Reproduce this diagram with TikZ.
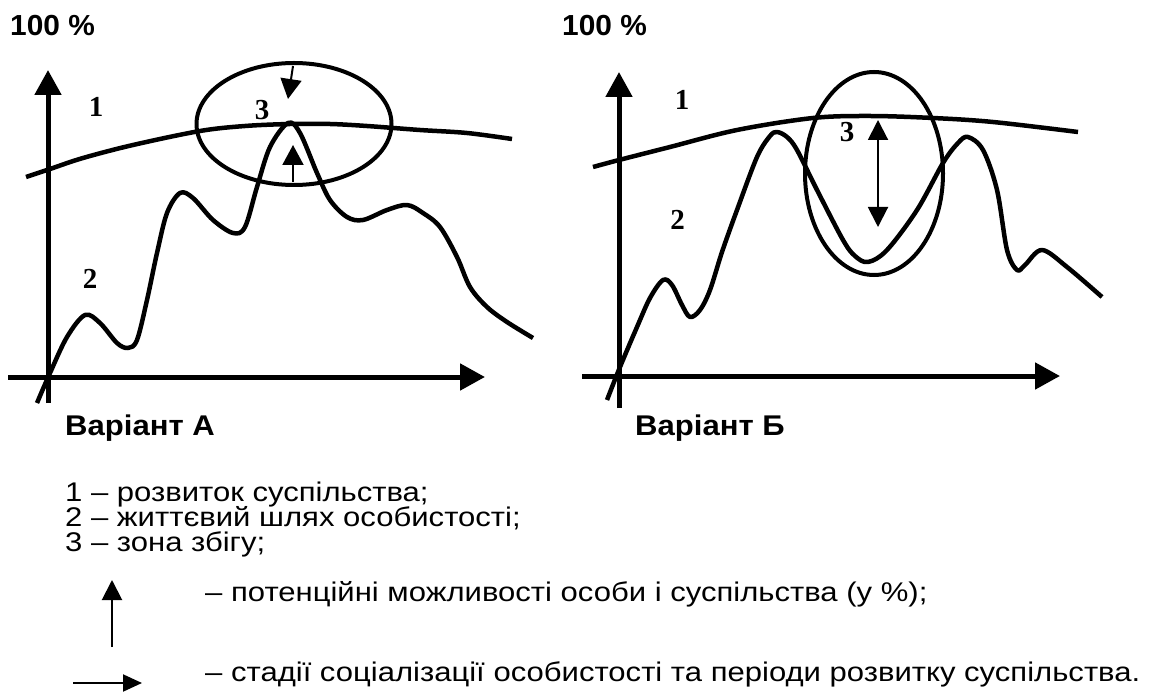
\documentclass[tikz,border=0pt]{standalone}
\usepackage{fontspec}
\usetikzlibrary{arrows.meta,calc,shapes.geometric}
\newfontfamily\lgf{Liberation Sans}[FakeStretch=1.15]
\newfontfamily\ttf{Liberation Sans}[FakeStretch=1.09]
\newfontfamily\hdf{Liberation Sans}[FakeStretch=1.03]
\newfontfamily\numf{Liberation Serif}
\tikzset{
  axis/.style={line width=5pt,-{Triangle[length=25pt,width=26pt]}},
  curve/.style={line width=4.5pt,line join=round},
  zone/.style={line width=4pt},
  thinarrow/.style={line width=2pt,-{Triangle[length=20pt,width=21pt]}},
  dblarrow/.style={line width=2pt,{Triangle[length=20pt,width=20pt]}-{Triangle[length=20pt,width=20pt]}},
  numlbl/.style={inner sep=0pt,font=\numf\bfseries\fontsize{29}{31}\selectfont},
  head/.style={inner sep=0pt,anchor=base west,font=\hdf\bfseries\fontsize{29}{32}\selectfont},
  title/.style={inner sep=0pt,anchor=base west,font=\ttf\bfseries\fontsize{28.5}{31}\selectfont},
  legend/.style={inner sep=0pt,anchor=base west,font=\lgf\fontsize{27}{30}\selectfont}
}
\begin{document}
\begin{tikzpicture}[x=1pt,y=-1pt]
\useasboundingbox (0,0) rectangle (1155,692);
% ---------- Variant A ----------
\coordinate (ya0) at (48,403);
\coordinate (ya1) at (48,70);
\coordinate (xa0) at (8,377);
\coordinate (xa1) at (485,377);
\draw[axis] (ya0) -- (ya1);
\draw[axis] (xa0) -- (xa1);
\draw[curve] plot[smooth,tension=0.55] coordinates {(26,177) (50,169) (83,158) (133,145) (200,131) (245,126) (290,124) (330,124) (367,126) (420,130) (467,133) (512,139)};
\draw[curve] plot[smooth,tension=0.55] coordinates {(37,403) (50,373) (67,337) (85,315) (100,323) (117,343) (128,348) (137,340) (147,300) (157,253) (167,213) (180,193) (193,198) (213,220) (233,233) (245,227) (257,187) (270,147) (288,123) (300,133) (317,173) (330,200) (347,217) (363,220) (387,210) (407,205) (423,213) (440,227) (457,257) (470,287) (487,307) (507,322) (533,338)};
\node[zone,draw,ellipse,minimum width=195pt,minimum height=122pt,inner sep=0pt] (za) at (294,124) {};
\coordinate (da0) at (293,66);
\coordinate (da1) at (288,99);
\coordinate (ua0) at (293,182);
\coordinate (ua1) at (293,145);
\draw[thinarrow] (da0) -- (da1);
\draw[thinarrow] (ua0) -- (ua1);
\node[numlbl] (a1) at (96,107) {1};
\node[numlbl] (a2) at (90,279) {2};
\node[numlbl] (a3) at (262,110) {3};
\node[head] (ha) at (10,36) {100 \%};
\node[title] (ta) at (65,435) {Варіант А};
% ---------- Variant B ----------
\coordinate (yb0) at (619,408);
\coordinate (yb1) at (619,72);
\coordinate (xb0) at (582,376);
\coordinate (xb1) at (1060,376);
\draw[axis] (yb0) -- (yb1);
\draw[axis] (xb0) -- (xb1);
\draw[curve] plot[smooth,tension=0.55] coordinates {(593,167) (619,160) (670,147) (737,130) (813,118) (870,116) (933,118) (993,122) (1078,132)};
\draw[curve] plot[smooth,tension=0.55] coordinates {(607,400) (620,367) (637,327) (650,298) (663,280) (672,285) (682,305) (690,317) (700,310) (710,290) (722,252) (737,210) (757,157) (770,136) (777,132) (787,137) (797,150) (817,190) (843,240) (855,256) (868,262) (887,250) (917,210) (943,163) (958,143) (968,137) (983,150) (997,190) (1007,250) (1017,270) (1025,265) (1042,250) (1067,267) (1102,297)};
\node[zone,draw,ellipse,minimum width=138pt,minimum height=203pt,inner sep=0pt] (zb) at (874,173.5) {};
\coordinate (bb0) at (878,120);
\coordinate (bb1) at (878,227);
\draw[dblarrow] (bb0) -- (bb1);
\node[numlbl] (b1) at (682,100) {1};
\node[numlbl] (b2) at (677.5,220) {2};
\node[numlbl] (b3) at (847,132) {3};
\node[head] (hb) at (562,36) {100 \%};
\node[title] (tb) at (635,435) {Варіант Б};
% ---------- Legend ----------
\node[legend] (l1) at (65,501) {1 – розвиток суспільства;};
\node[legend] (l2) at (65,526) {2 – життєвий шлях особистості;};
\node[legend] (l3) at (65,551) {3 – зона збігу;};
\node[legend] (l4) at (205,601) {– потенційні можливості особи і суспільства (у \%);};
\node[legend] (l5) at (205,681) {– стадії соціалізації особистості та періоди розвитку суспільства.};
\coordinate (la0) at (112,647);
\coordinate (la1) at (112,580);
\coordinate (lb0) at (73,683);
\coordinate (lb1) at (142,683);
\draw[line width=2pt,-{Triangle[length=20pt,width=20pt]}] (la0) -- (la1);
\draw[line width=2pt,-{Triangle[length=19pt,width=17pt]}] (lb0) -- (lb1);
\end{tikzpicture}
\end{document}
